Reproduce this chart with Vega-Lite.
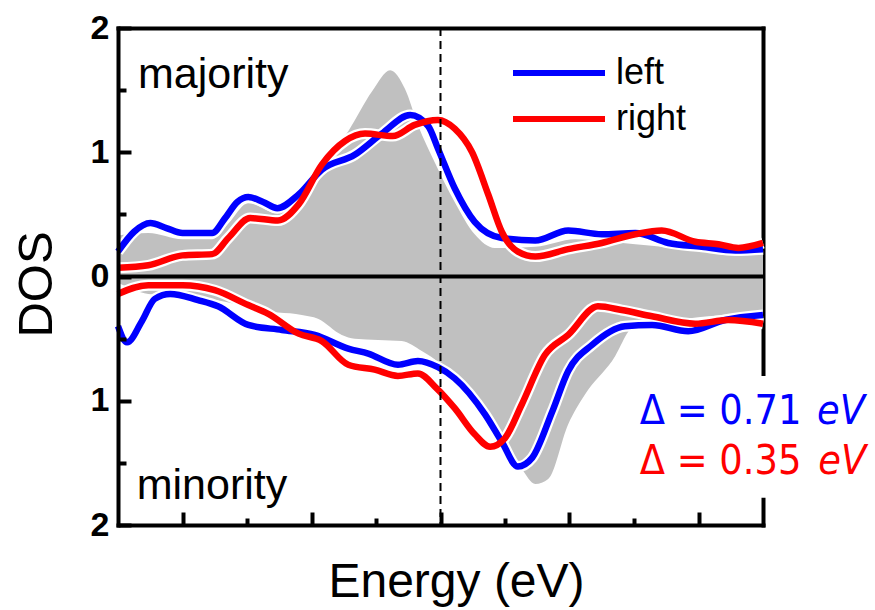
{
  "$schema": "https://vega.github.io/schema/vega-lite/v6.json",
  "width": 645,
  "height": 497,
  "autosize": {"type": "none"},
  "padding": {"left": 118, "top": 28, "right": 112, "bottom": 85},
  "background": "white",
  "config": {"view": {"stroke": null}, "font": "Liberation Sans"},
  "datasets": {
    "main": [
      {"s": "gmaj", "spin": "maj", "E": -5, "D": 0.33},
      {"s": "gmaj", "spin": "maj", "E": -4.53, "D": 0.35},
      {"s": "gmaj", "spin": "maj", "E": -4.0, "D": 0.30},
      {"s": "gmaj", "spin": "maj", "E": -3.54, "D": 0.30},
      {"s": "gmaj", "spin": "maj", "E": -3.3, "D": 0.42},
      {"s": "gmaj", "spin": "maj", "E": -2.98, "D": 0.59},
      {"s": "gmaj", "spin": "maj", "E": -2.53, "D": 0.51},
      {"s": "gmaj", "spin": "maj", "E": -2.2, "D": 0.62},
      {"s": "gmaj", "spin": "maj", "E": -1.84, "D": 0.88},
      {"s": "gmaj", "spin": "maj", "E": -1.43, "D": 1.17},
      {"s": "gmaj", "spin": "maj", "E": -1.06, "D": 1.49},
      {"s": "gmaj", "spin": "maj", "E": -0.78, "D": 1.66},
      {"s": "gmaj", "spin": "maj", "E": -0.55, "D": 1.51},
      {"s": "gmaj", "spin": "maj", "E": -0.35, "D": 1.22},
      {"s": "gmaj", "spin": "maj", "E": -0.09, "D": 0.92},
      {"s": "gmaj", "spin": "maj", "E": 0.22, "D": 0.60},
      {"s": "gmaj", "spin": "maj", "E": 0.53, "D": 0.34},
      {"s": "gmaj", "spin": "maj", "E": 0.84, "D": 0.23},
      {"s": "gmaj", "spin": "maj", "E": 1.47, "D": 0.24},
      {"s": "gmaj", "spin": "maj", "E": 2.09, "D": 0.30},
      {"s": "gmaj", "spin": "maj", "E": 3.02, "D": 0.26},
      {"s": "gmaj", "spin": "maj", "E": 4.05, "D": 0.21},
      {"s": "gmaj", "spin": "maj", "E": 5, "D": 0.19},

      {"s": "gmin", "spin": "min", "E": -5, "D": -0.05},
      {"s": "gmin", "spin": "min", "E": -4.53, "D": -0.14},
      {"s": "gmin", "spin": "min", "E": -3.76, "D": -0.17},
      {"s": "gmin", "spin": "min", "E": -3.2, "D": -0.22},
      {"s": "gmin", "spin": "min", "E": -2.88, "D": -0.27},
      {"s": "gmin", "spin": "min", "E": -2.15, "D": -0.31},
      {"s": "gmin", "spin": "min", "E": -1.9, "D": -0.34},
      {"s": "gmin", "spin": "min", "E": -1.53, "D": -0.47},
      {"s": "gmin", "spin": "min", "E": -1.33, "D": -0.50},
      {"s": "gmin", "spin": "min", "E": -0.6, "D": -0.52},
      {"s": "gmin", "spin": "min", "E": -0.29, "D": -0.60},
      {"s": "gmin", "spin": "min", "E": -0.01, "D": -0.70},
      {"s": "gmin", "spin": "min", "E": 0.43, "D": -0.98},
      {"s": "gmin", "spin": "min", "E": 0.95, "D": -1.30},
      {"s": "gmin", "spin": "min", "E": 1.26, "D": -1.55},
      {"s": "gmin", "spin": "min", "E": 1.47, "D": -1.67},
      {"s": "gmin", "spin": "min", "E": 1.67, "D": -1.63},
      {"s": "gmin", "spin": "min", "E": 1.98, "D": -1.19},
      {"s": "gmin", "spin": "min", "E": 2.24, "D": -0.95},
      {"s": "gmin", "spin": "min", "E": 2.66, "D": -0.68},
      {"s": "gmin", "spin": "min", "E": 3.02, "D": -0.39},
      {"s": "gmin", "spin": "min", "E": 3.53, "D": -0.36},
      {"s": "gmin", "spin": "min", "E": 4.15, "D": -0.32},
      {"s": "gmin", "spin": "min", "E": 5, "D": -0.30},

      {"s": "left", "spin": "maj", "E": -5, "D": 0.20},
      {"s": "left", "spin": "maj", "E": -4.75, "D": 0.36},
      {"s": "left", "spin": "maj", "E": -4.5, "D": 0.43},
      {"s": "left", "spin": "maj", "E": -4.25, "D": 0.39},
      {"s": "left", "spin": "maj", "E": -4.0, "D": 0.35},
      {"s": "left", "spin": "maj", "E": -3.54, "D": 0.35},
      {"s": "left", "spin": "maj", "E": -3.34, "D": 0.47},
      {"s": "left", "spin": "maj", "E": -3.15, "D": 0.60},
      {"s": "left", "spin": "maj", "E": -2.98, "D": 0.64},
      {"s": "left", "spin": "maj", "E": -2.75, "D": 0.60},
      {"s": "left", "spin": "maj", "E": -2.53, "D": 0.55},
      {"s": "left", "spin": "maj", "E": -2.2, "D": 0.66},
      {"s": "left", "spin": "maj", "E": -1.84, "D": 0.86},
      {"s": "left", "spin": "maj", "E": -1.33, "D": 0.98},
      {"s": "left", "spin": "maj", "E": -0.91, "D": 1.15},
      {"s": "left", "spin": "maj", "E": -0.47, "D": 1.30},
      {"s": "left", "spin": "maj", "E": -0.19, "D": 1.21},
      {"s": "left", "spin": "maj", "E": -0.04, "D": 1.03},
      {"s": "left", "spin": "maj", "E": 0.22, "D": 0.71},
      {"s": "left", "spin": "maj", "E": 0.53, "D": 0.44},
      {"s": "left", "spin": "maj", "E": 0.95, "D": 0.31},
      {"s": "left", "spin": "maj", "E": 1.47, "D": 0.29},
      {"s": "left", "spin": "maj", "E": 1.98, "D": 0.37},
      {"s": "left", "spin": "maj", "E": 2.5, "D": 0.34},
      {"s": "left", "spin": "maj", "E": 3.02, "D": 0.35},
      {"s": "left", "spin": "maj", "E": 3.53, "D": 0.27},
      {"s": "left", "spin": "maj", "E": 4.05, "D": 0.24},
      {"s": "left", "spin": "maj", "E": 4.57, "D": 0.21},
      {"s": "left", "spin": "maj", "E": 5, "D": 0.22},

      {"s": "right", "spin": "maj", "E": -5, "D": 0.07},
      {"s": "right", "spin": "maj", "E": -4.53, "D": 0.09},
      {"s": "right", "spin": "maj", "E": -4.0, "D": 0.17},
      {"s": "right", "spin": "maj", "E": -3.54, "D": 0.18},
      {"s": "right", "spin": "maj", "E": -3.29, "D": 0.31},
      {"s": "right", "spin": "maj", "E": -2.95, "D": 0.47},
      {"s": "right", "spin": "maj", "E": -2.52, "D": 0.45},
      {"s": "right", "spin": "maj", "E": -2.2, "D": 0.58},
      {"s": "right", "spin": "maj", "E": -1.84, "D": 0.90},
      {"s": "right", "spin": "maj", "E": -1.48, "D": 1.09},
      {"s": "right", "spin": "maj", "E": -1.17, "D": 1.15},
      {"s": "right", "spin": "maj", "E": -0.74, "D": 1.13},
      {"s": "right", "spin": "maj", "E": -0.4, "D": 1.22},
      {"s": "right", "spin": "maj", "E": -0.04, "D": 1.26},
      {"s": "right", "spin": "maj", "E": 0.22, "D": 1.19},
      {"s": "right", "spin": "maj", "E": 0.49, "D": 1.00},
      {"s": "right", "spin": "maj", "E": 0.74, "D": 0.66},
      {"s": "right", "spin": "maj", "E": 0.95, "D": 0.36},
      {"s": "right", "spin": "maj", "E": 1.2, "D": 0.20},
      {"s": "right", "spin": "maj", "E": 1.47, "D": 0.16},
      {"s": "right", "spin": "maj", "E": 1.98, "D": 0.22},
      {"s": "right", "spin": "maj", "E": 2.5, "D": 0.27},
      {"s": "right", "spin": "maj", "E": 3.02, "D": 0.34},
      {"s": "right", "spin": "maj", "E": 3.43, "D": 0.37},
      {"s": "right", "spin": "maj", "E": 3.95, "D": 0.28},
      {"s": "right", "spin": "maj", "E": 4.31, "D": 0.26},
      {"s": "right", "spin": "maj", "E": 4.62, "D": 0.23},
      {"s": "right", "spin": "maj", "E": 5, "D": 0.27},

      {"s": "left", "spin": "min", "E": -5, "D": -0.40},
      {"s": "left", "spin": "min", "E": -4.86, "D": -0.53},
      {"s": "left", "spin": "min", "E": -4.63, "D": -0.36},
      {"s": "left", "spin": "min", "E": -4.43, "D": -0.18},
      {"s": "left", "spin": "min", "E": -4.19, "D": -0.14},
      {"s": "left", "spin": "min", "E": -3.76, "D": -0.19},
      {"s": "left", "spin": "min", "E": -3.45, "D": -0.24},
      {"s": "left", "spin": "min", "E": -2.98, "D": -0.39},
      {"s": "left", "spin": "min", "E": -2.46, "D": -0.43},
      {"s": "left", "spin": "min", "E": -1.95, "D": -0.47},
      {"s": "left", "spin": "min", "E": -1.43, "D": -0.58},
      {"s": "left", "spin": "min", "E": -1.12, "D": -0.62},
      {"s": "left", "spin": "min", "E": -0.66, "D": -0.71},
      {"s": "left", "spin": "min", "E": -0.35, "D": -0.68},
      {"s": "left", "spin": "min", "E": -0.04, "D": -0.73},
      {"s": "left", "spin": "min", "E": 0.22, "D": -0.82},
      {"s": "left", "spin": "min", "E": 0.69, "D": -1.11},
      {"s": "left", "spin": "min", "E": 0.95, "D": -1.33},
      {"s": "left", "spin": "min", "E": 1.2, "D": -1.53},
      {"s": "left", "spin": "min", "E": 1.42, "D": -1.46},
      {"s": "left", "spin": "min", "E": 1.73, "D": -1.09},
      {"s": "left", "spin": "min", "E": 1.98, "D": -0.76},
      {"s": "left", "spin": "min", "E": 2.35, "D": -0.55},
      {"s": "left", "spin": "min", "E": 2.86, "D": -0.40},
      {"s": "left", "spin": "min", "E": 3.28, "D": -0.39},
      {"s": "left", "spin": "min", "E": 3.84, "D": -0.44},
      {"s": "left", "spin": "min", "E": 4.41, "D": -0.35},
      {"s": "left", "spin": "min", "E": 5, "D": -0.31},

      {"s": "right", "spin": "min", "E": -5, "D": -0.14},
      {"s": "right", "spin": "min", "E": -4.53, "D": -0.07},
      {"s": "right", "spin": "min", "E": -4.0, "D": -0.07},
      {"s": "right", "spin": "min", "E": -3.5, "D": -0.11},
      {"s": "right", "spin": "min", "E": -2.98, "D": -0.23},
      {"s": "right", "spin": "min", "E": -2.67, "D": -0.30},
      {"s": "right", "spin": "min", "E": -2.2, "D": -0.46},
      {"s": "right", "spin": "min", "E": -1.84, "D": -0.52},
      {"s": "right", "spin": "min", "E": -1.43, "D": -0.71},
      {"s": "right", "spin": "min", "E": -1.02, "D": -0.75},
      {"s": "right", "spin": "min", "E": -0.66, "D": -0.80},
      {"s": "right", "spin": "min", "E": -0.35, "D": -0.78},
      {"s": "right", "spin": "min", "E": -0.06, "D": -0.90},
      {"s": "right", "spin": "min", "E": 0.22, "D": -1.06},
      {"s": "right", "spin": "min", "E": 0.53, "D": -1.27},
      {"s": "right", "spin": "min", "E": 0.77, "D": -1.37},
      {"s": "right", "spin": "min", "E": 1.0, "D": -1.30},
      {"s": "right", "spin": "min", "E": 1.26, "D": -1.03},
      {"s": "right", "spin": "min", "E": 1.62, "D": -0.63},
      {"s": "right", "spin": "min", "E": 1.98, "D": -0.47},
      {"s": "right", "spin": "min", "E": 2.44, "D": -0.24},
      {"s": "right", "spin": "min", "E": 2.81, "D": -0.27},
      {"s": "right", "spin": "min", "E": 3.28, "D": -0.32},
      {"s": "right", "spin": "min", "E": 3.95, "D": -0.38},
      {"s": "right", "spin": "min", "E": 4.46, "D": -0.35},
      {"s": "right", "spin": "min", "E": 5, "D": -0.38}
    ]
  },
  "layer": [
    {
      "data": {"name": "main"},
      "encoding": {
        "x": {
          "field": "E", "type": "quantitative",
          "scale": {"domain": [-5, 5], "nice": false, "zero": false},
          "axis": {
            "orient": "bottom", "values": [-4, -3, -2, -1, 0, 1, 2, 3, 4],
            "labels": false, "grid": false,
            "tickSize": {"condition": {"test": "datum.value % 2 === 0", "value": -13}, "value": -7},
            "tickWidth": 4, "tickColor": "black",
            "domainColor": "black", "domainWidth": 4, "domainCap": "square",
            "title": "Energy (eV)", "titleFont": "Liberation Sans", "titleFontSize": 48,
            "titleFontWeight": "normal", "titleColor": "black",
            "titleX": 338, "titleY": 71, "titleBaseline": "alphabetic", "titleAlign": "center",
            "zindex": 1
          }
        },
        "y": {
          "field": "D", "type": "quantitative",
          "scale": {"domain": [-2, 2], "nice": false, "zero": false},
          "axis": {
            "orient": "left", "values": [-2, -1.5, -1, -0.5, 0, 0.5, 1, 1.5, 2],
            "labelExpr": "datum.value % 1 === 0 ? '' + abs(datum.value) : ''",
            "grid": false,
            "tickSize": {"condition": {"test": "datum.value % 1 === 0", "value": -13}, "value": -8},
            "tickWidth": 4, "tickColor": "black",
            "domainColor": "black", "domainWidth": 4, "domainCap": "square",
            "labelFont": "Liberation Sans", "labelFontWeight": "bold", "labelFontSize": 34,
            "labelColor": "black", "labelPadding": 22, "labelFlush": false,
            "title": "DOS", "titleFont": "Liberation Sans", "titleFontSize": 49,
            "titleFontWeight": "normal", "titleColor": "black",
            "titleAngle": -90, "titleX": -67, "titleY": 256,
            "titleBaseline": "alphabetic", "titleAlign": "center",
            "zindex": 1
          }
        }
      },
      "layer": [
        {
          "transform": [{"filter": "datum.s === 'gmaj'"}],
          "mark": {"type": "area", "color": "#c0c0c0", "interpolate": "monotone"},
          "encoding": {"y2": {"datum": 0}}
        },
        {
          "transform": [{"filter": "datum.s === 'gmin'"}],
          "mark": {"type": "area", "color": "#c0c0c0", "interpolate": "monotone"},
          "encoding": {"y2": {"datum": 0}}
        },
        {
          "transform": [{"filter": "datum.s === 'left' || datum.s === 'right'"}],
          "mark": {"type": "line", "color": "white", "strokeWidth": 11, "interpolate": "monotone"},
          "encoding": {"detail": [{"field": "s"}, {"field": "spin"}]}
        },
        {
          "transform": [{"filter": "datum.s === 'left' || datum.s === 'right'"}],
          "mark": {"type": "line", "strokeWidth": 6.5, "interpolate": "monotone"},
          "encoding": {
            "color": {
              "field": "s", "type": "nominal",
              "scale": {"domain": ["left", "right"], "range": ["#0000ff", "#ff0000"]},
              "legend": {
                "orient": "none", "legendX": 392, "legendY": 22, "title": null,
                "symbolType": "stroke", "symbolSize": 8464, "symbolStrokeWidth": 6,
                "clipHeight": 46, "rowPadding": 0, "padding": 0, "labelOffset": 8,
                "labelFont": "Liberation Sans", "labelFontSize": 36, "labelColor": "black"
              }
            },
            "detail": {"field": "spin"}
          }
        }
      ]
    },
    {
      "data": {"values": [{}]},
      "layer": [
        {
          "mark": {"type": "rule", "color": "black", "strokeWidth": 2, "strokeDash": [8, 5]},
          "encoding": {
            "x": {
              "datum": 0, "type": "quantitative",
              "scale": {"domain": [-5, 5], "nice": false, "zero": false},
              "axis": {"orient": "top", "ticks": false, "labels": false, "title": null, "grid": false,
                       "domainColor": "black", "domainWidth": 4, "domainCap": "square", "zindex": 1}
            }
          }
        },
        {
          "mark": {"type": "rule", "color": "black", "strokeWidth": 4},
          "encoding": {
            "y": {
              "datum": 0, "type": "quantitative",
              "scale": {"domain": [-2, 2], "nice": false, "zero": false},
              "axis": {"orient": "right", "ticks": false, "labels": false, "title": null, "grid": false,
                       "domainColor": "black", "domainWidth": 4, "domainCap": "square", "zindex": 0}
            }
          }
        },
        {
          "mark": {"type": "rect", "color": "white", "clip": false},
          "encoding": {
            "x": {"datum": 3.05, "type": "quantitative"},
            "x2": {"datum": 6.75},
            "y": {"datum": -0.8, "type": "quantitative"},
            "y2": {"datum": -1.78}
          }
        },
        {
          "mark": {"type": "text", "text": "majority", "font": "Liberation Sans", "fontSize": 43,
                   "align": "left", "baseline": "alphabetic", "color": "black", "clip": false},
          "encoding": {"x": {"datum": -4.69, "type": "quantitative"}, "y": {"datum": 1.52, "type": "quantitative"}}
        },
        {
          "mark": {"type": "text", "text": "minority", "font": "Liberation Sans", "fontSize": 43,
                   "align": "left", "baseline": "alphabetic", "color": "black", "clip": false},
          "encoding": {"x": {"datum": -4.71, "type": "quantitative"}, "y": {"datum": -1.79, "type": "quantitative"}}
        },
        {
          "mark": {"type": "text", "text": "Δ = 0.71", "font": "DejaVu Sans Condensed", "fontSize": 41,
                   "align": "left", "baseline": "alphabetic", "color": "#0000ff", "clip": false},
          "encoding": {"x": {"datum": 3.09, "type": "quantitative"}, "y": {"datum": -1.19, "type": "quantitative"}}
        },
        {
          "mark": {"type": "text", "text": "eV", "font": "DejaVu Sans Condensed", "fontSize": 41, "fontStyle": "italic",
                   "align": "right", "baseline": "alphabetic", "color": "#0000ff", "clip": false},
          "encoding": {"x": {"datum": 6.58, "type": "quantitative"}, "y": {"datum": -1.19, "type": "quantitative"}}
        },
        {
          "mark": {"type": "text", "text": "Δ = 0.35", "font": "DejaVu Sans Condensed", "fontSize": 41,
                   "align": "left", "baseline": "alphabetic", "color": "#ff0000", "clip": false},
          "encoding": {"x": {"datum": 3.09, "type": "quantitative"}, "y": {"datum": -1.59, "type": "quantitative"}}
        },
        {
          "mark": {"type": "text", "text": "eV", "font": "DejaVu Sans Condensed", "fontSize": 41, "fontStyle": "italic",
                   "align": "right", "baseline": "alphabetic", "color": "#ff0000", "clip": false},
          "encoding": {"x": {"datum": 6.6, "type": "quantitative"}, "y": {"datum": -1.59, "type": "quantitative"}}
        }
      ]
    }
  ],
  "resolve": {"axis": {"x": "independent", "y": "independent"}}
}
